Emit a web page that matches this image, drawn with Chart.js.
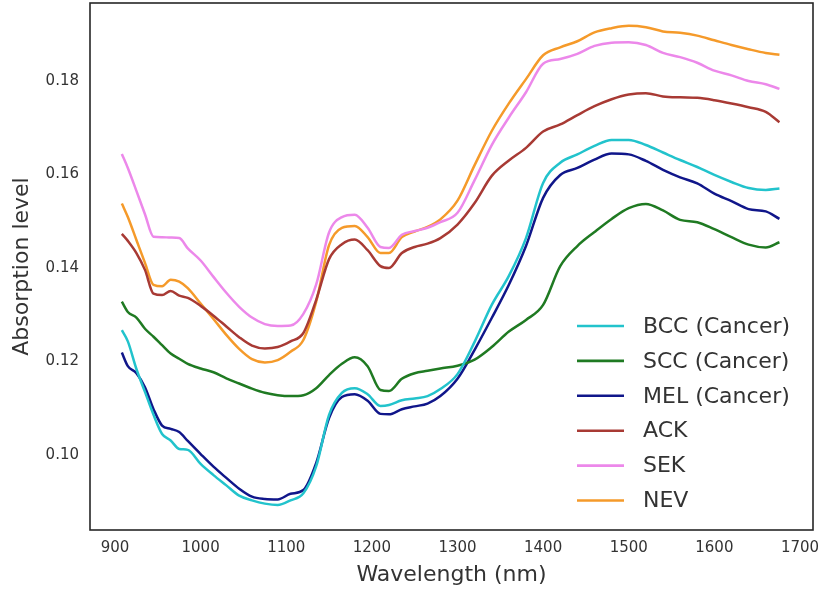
<!DOCTYPE html>
<html>
<head>
<meta charset="utf-8">
<script src="https://cdn.jsdelivr.net/npm/chart.js@4.4.1/dist/chart.umd.min.js"></script>
<style>
  html, body { margin: 0; padding: 0; background: #fff; }
  canvas { display: block; }
</style>
</head>
<body>
<canvas id="spectra" width="820" height="590"></canvas>
<script>
// wavelengths in nm, shared by every curve
const wavelengths = [908, 915, 925, 935, 945, 955, 965, 975, 985, 1000, 1015, 1030, 1045, 1060, 1075, 1090, 1105, 1120, 1135, 1150, 1165, 1180, 1195, 1210, 1220, 1235, 1250, 1265, 1280, 1300, 1320, 1340, 1360, 1380, 1400, 1420, 1440, 1460, 1480, 1500, 1520, 1540, 1560, 1580, 1600, 1620, 1640, 1660, 1676];

const bcc = [0.1267, 0.1243, 0.1184, 0.1135, 0.1086, 0.1045, 0.1031, 0.1013, 0.1011, 0.0981, 0.0957, 0.0935, 0.0913, 0.0903, 0.0896, 0.0893, 0.0903, 0.0918, 0.0976, 0.1086, 0.1133, 0.1143, 0.1130, 0.1105, 0.1107, 0.1117, 0.1121, 0.1126, 0.1141, 0.1173, 0.1242, 0.1321, 0.1383, 0.1464, 0.1582, 0.1625, 0.1643, 0.1661, 0.1674, 0.1674, 0.1663, 0.1647, 0.1631, 0.1616, 0.1599, 0.1584, 0.1571, 0.1567, 0.1570];
const scc = [0.1328, 0.1306, 0.1294, 0.1270, 0.1253, 0.1235, 0.1217, 0.1206, 0.1195, 0.1185, 0.1177, 0.1164, 0.1153, 0.1142, 0.1133, 0.1128, 0.1126, 0.1128, 0.1143, 0.1171, 0.1195, 0.1209, 0.1190, 0.1139, 0.1137, 0.1163, 0.1175, 0.1180, 0.1185, 0.1191, 0.1204, 0.1231, 0.1264, 0.1289, 0.1321, 0.1404, 0.1447, 0.1477, 0.1505, 0.1528, 0.1537, 0.1523, 0.1503, 0.1498, 0.1483, 0.1466, 0.1450, 0.1444, 0.1455];
const mel = [0.1219, 0.1190, 0.1175, 0.1145, 0.1098, 0.1063, 0.1056, 0.1049, 0.1030, 0.1002, 0.0975, 0.0951, 0.0928, 0.0911, 0.0906, 0.0905, 0.0917, 0.0925, 0.0983, 0.1079, 0.1124, 0.1130, 0.1116, 0.1088, 0.1087, 0.1098, 0.1104, 0.1110, 0.1126, 0.1163, 0.1225, 0.1293, 0.1364, 0.1447, 0.1550, 0.1599, 0.1614, 0.1632, 0.1645, 0.1643, 0.1629, 0.1610, 0.1594, 0.1581, 0.1559, 0.1543, 0.1526, 0.1521, 0.1505];
const ack = [0.1473, 0.1458, 0.1432, 0.1396, 0.1345, 0.1342, 0.1351, 0.1341, 0.1336, 0.1319, 0.1298, 0.1275, 0.1252, 0.1234, 0.1228, 0.1231, 0.1243, 0.1261, 0.1332, 0.1419, 0.1451, 0.1461, 0.1438, 0.1404, 0.1400, 0.1432, 0.1445, 0.1452, 0.1464, 0.1493, 0.1539, 0.1597, 0.1630, 0.1657, 0.1692, 0.1707, 0.1727, 0.1746, 0.1761, 0.1771, 0.1774, 0.1767, 0.1765, 0.1764, 0.1759, 0.1752, 0.1744, 0.1734, 0.1712];
const sek = [0.1644, 0.1614, 0.1565, 0.1515, 0.1467, 0.1466, 0.1465, 0.1464, 0.1442, 0.1416, 0.1381, 0.1347, 0.1317, 0.1294, 0.1280, 0.1276, 0.1277, 0.1302, 0.1365, 0.1476, 0.1509, 0.1514, 0.1486, 0.1445, 0.1443, 0.1471, 0.1479, 0.1486, 0.1498, 0.1518, 0.1588, 0.1663, 0.1722, 0.1776, 0.1837, 0.1847, 0.1858, 0.1875, 0.1882, 0.1883, 0.1877, 0.1860, 0.1851, 0.1839, 0.1822, 0.1812, 0.1800, 0.1793, 0.1783];
const nev = [0.1538, 0.1509, 0.1460, 0.1411, 0.1364, 0.1361, 0.1375, 0.1371, 0.1357, 0.1324, 0.1291, 0.1257, 0.1227, 0.1205, 0.1198, 0.1203, 0.1221, 0.1246, 0.1328, 0.1449, 0.1486, 0.1490, 0.1466, 0.1432, 0.1432, 0.1466, 0.1478, 0.1488, 0.1504, 0.1544, 0.1620, 0.1693, 0.1752, 0.1804, 0.1855, 0.1872, 0.1885, 0.1904, 0.1913, 0.1918, 0.1915, 0.1906, 0.1903, 0.1897, 0.1887, 0.1877, 0.1868, 0.1860, 0.1856];

const seriesNames = ['BCC (Cancer)', 'SCC (Cancer)', 'MEL (Cancer)', 'ACK', 'SEK', 'NEV'];
const seriesValues = [bcc, scc, mel, ack, sek, nev];
const seriesColors = ['#22c3cc', '#1f7a22', '#10168a', '#a83a34', '#ec88ea', '#f59a2a'];

const xTicks = [900, 1000, 1100, 1200, 1300, 1400, 1500, 1600, 1700];
const yTicks = [0.10, 0.12, 0.14, 0.16, 0.18];

const textColor = '#333333';
const fontFamily = "'DejaVu Sans', sans-serif";

// box round the plot area, like the matplotlib axes frame
const framePlugin = {
  id: 'frame',
  afterDraw(chart) {
    const { ctx, chartArea: a } = chart;
    ctx.save();
    ctx.strokeStyle = '#262626';
    ctx.lineWidth = 1.6;
    ctx.strokeRect(a.left, a.top, a.right - a.left, a.bottom - a.top);
    ctx.restore();
  },
};

// legend drawn inside the plot, lower right, no box
const insideLegend = {
  id: 'insideLegend',
  afterDraw(chart) {
    const { ctx, chartArea: a } = chart;
    const x0 = a.right - 236;
    const rowY = a.bottom - 204;
    const step = 34.9;
    ctx.save();
    ctx.font = `22px ${fontFamily}`;
    ctx.textBaseline = 'middle';
    ctx.textAlign = 'left';
    chart.data.datasets.forEach((ds, i) => {
      const y = rowY + i * step;
      ctx.strokeStyle = ds.borderColor;
      ctx.lineWidth = 2.6;
      ctx.beginPath();
      ctx.moveTo(x0, y);
      ctx.lineTo(x0 + 47, y);
      ctx.stroke();
      ctx.fillStyle = textColor;
      ctx.fillText(ds.label, x0 + 66, y + 1);
    });
    ctx.restore();
  },
};

const datasets = seriesNames.map((name, i) => ({
  label: name,
  data: wavelengths.map((w, j) => ({ x: w, y: seriesValues[i][j] })),
  borderColor: seriesColors[i],
  backgroundColor: seriesColors[i],
  borderWidth: 2.5,
  pointRadius: 0,
  cubicInterpolationMode: 'monotone',
  fill: false,
}));

new Chart(document.getElementById('spectra'), {
  type: 'line',
  data: { datasets },
  options: {
    responsive: false,
    animation: false,
    layout: { padding: { top: 3, right: 7, left: 0, bottom: 0 } },
    plugins: {
      legend: { display: false },
      tooltip: { enabled: false },
    },
    scales: {
      x: {
        type: 'linear',
        min: 870.8,
        max: 1715.2,
        grid: { display: false, drawTicks: false },
        border: { display: false },
        afterBuildTicks: (scale) => { scale.ticks = xTicks.map((v) => ({ value: v })); },
        afterFit: (scale) => {
          scale.height = 60;
          scale.paddingLeft = 0;
          scale.paddingRight = 0;
        },
        ticks: {
          padding: 9,
          color: textColor,
          font: { family: fontFamily, size: 15 },
          callback: (v) => String(v),
          maxRotation: 0,
        },
        title: {
          display: true,
          text: 'Wavelength (nm)',
          color: textColor,
          font: { family: fontFamily, size: 22 },
          padding: { top: 0, bottom: 2 },
        },
      },
      y: {
        type: 'linear',
        min: 0.08396,
        max: 0.19668,
        grid: { display: false, drawTicks: false },
        border: { display: false },
        afterBuildTicks: (scale) => { scale.ticks = yTicks.map((v) => ({ value: v })); },
        afterFit: (scale) => {
          scale.width = 90;
          scale.paddingTop = 0;
          scale.paddingBottom = 0;
        },
        ticks: {
          padding: 11,
          color: textColor,
          font: { family: fontFamily, size: 15 },
          callback: (v) => v.toFixed(2),
        },
        title: {
          display: true,
          text: 'Absorption level',
          color: textColor,
          font: { family: fontFamily, size: 22 },
          padding: { top: 9, bottom: 0 },
        },
      },
    },
  },
  plugins: [framePlugin, insideLegend],
});
</script>
</body>
</html>
